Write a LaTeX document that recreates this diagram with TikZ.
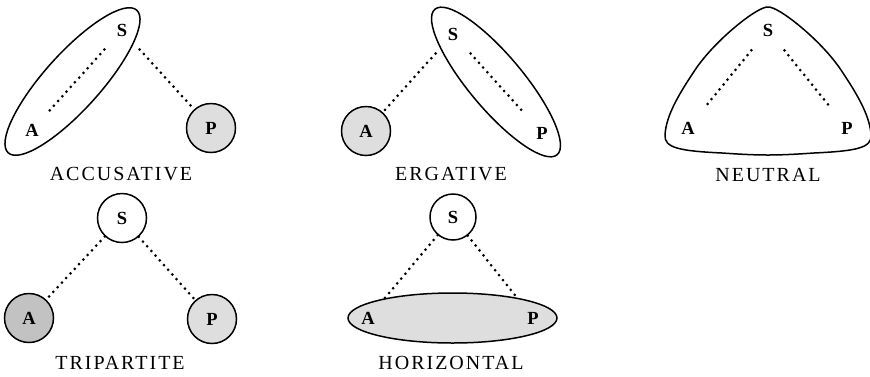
\documentclass[tikz,border=0pt]{standalone}
\usepackage{fontspec}
\setmainfont{Liberation Serif}
\newfontfamily\capsfont[LetterSpace=10]{Liberation Serif}
\begin{document}
\begin{tikzpicture}[x=1pt,y=-1pt,
  lt/.style={circle,minimum size=52pt,inner sep=0pt,font=\fontsize{18.5}{18.5}\selectfont\bfseries},
  ring/.style={lt,draw,line width=1.5pt,minimum size=49pt},
  lightfill/.style={fill=black!13},
  darkfill/.style={fill=black!24},
  dots/.style={line width=3pt,line cap=round,dash pattern=on 0pt off 6.3pt},
  outline/.style={line width=1.5pt},
  caption/.style={font=\capsfont\fontsize{20}{20}\selectfont}]
\useasboundingbox (0,0) rectangle (870,376);
% ACCUSATIVE
\draw[outline,rotate around={48:(72.5,81.5)}] (72.5,81.5) ellipse [x radius=96,y radius=28];
\node[lt] (aS) at (122,30) {S};
\node[lt] (aA) at (32,130) {A};
\node[ring,lightfill] (aP) at (211,128) {P};
\draw[dots] (aS) -- (aA);
\draw[dots] (aS) -- (aP);
\node[caption] (acc) at (121,174) {ACCUSATIVE};
% ERGATIVE
\draw[outline,rotate around={-50:(496,82)}] (496,82) ellipse [x radius=95,y radius=27];
\node[lt] (eS) at (453,34) {S};
\node[ring,lightfill] (eA) at (366,131) {A};
\node[lt] (eP) at (542,133) {P};
\draw[dots] (eS) -- (eA);
\draw[dots] (eS) -- (eP);
\node[caption] (erg) at (451,174) {ERGATIVE};
% NEUTRAL
\draw[outline] (768,7) .. controls (758,6) and (715,40) .. (695,70)
  .. controls (680,92.5) and (666,115) .. (665,135)
  .. controls (664,148) and (680,151) .. (722,153)
  .. controls (737,154) and (752,155) .. (768,155)
  .. controls (784,155) and (799,154) .. (814,153)
  .. controls (856,151) and (872,148) .. (871,135)
  .. controls (870,115) and (856,92.5) .. (841,70)
  .. controls (821,40) and (778,6) .. (768,7) -- cycle;
\node[lt] (nS) at (768,30) {S};
\node[lt] (nA) at (688,128) {A};
\node[lt] (nP) at (847,128) {P};
\draw[dots] (nS) -- (nA);
\draw[dots] (nS) -- (nP);
\node[caption] (neu) at (768,175) {NEUTRAL};
% TRIPARTITE
\node[ring] (tS) at (122,218) {S};
\node[ring,darkfill] (tA) at (29,318) {A};
\node[ring,lightfill] (tP) at (212,319) {P};
\draw[dots] (tS) -- (tA);
\draw[dots] (tS) -- (tP);
\node[caption] (tri) at (120,363) {TRIPARTITE};
% HORIZONTAL
\draw[outline,lightfill] (452.5,318) ellipse [x radius=104.5,y radius=25];
\node[ring,minimum size=46pt] (hS) at (453,217) {S};
\node[lt] (hA) at (368,318) {A};
\node[lt] (hP) at (533,318) {P};
\draw[dots] (hS) -- (hA);
\draw[dots] (hS) -- (hP);
\node[caption] (hor) at (451,363) {HORIZONTAL};
\end{tikzpicture}
\end{document}
